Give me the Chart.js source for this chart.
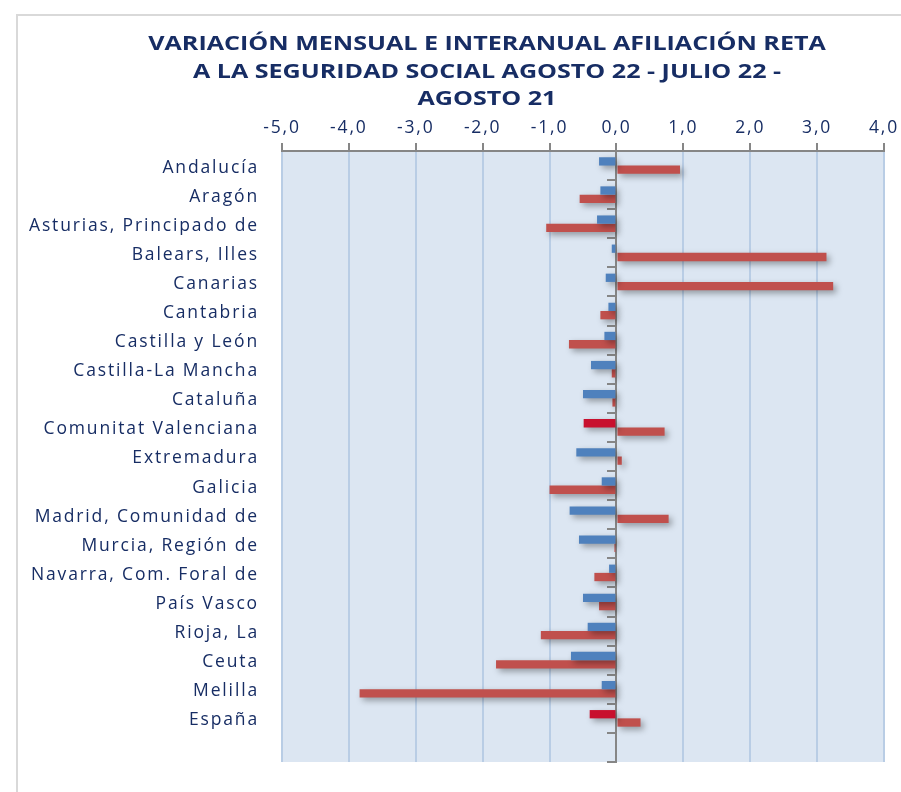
<!DOCTYPE html>
<html>
<head>
<meta charset="utf-8">
<script src="https://cdn.jsdelivr.net/npm/chart.js@4.4.1/dist/chart.umd.min.js"></script>
<style>
    html, body { margin: 0; padding: 0; background: #ffffff; overflow: hidden; }
    .frame { position: absolute; left: 16px; top: 14px; width: 1000px; height: 1000px; border: 2px solid #D9D9D9; }
    #chart { position: absolute; left: 0; top: 0; }
</style>
</head>
<body>
<div class="frame"></div>
<canvas id="chart" width="901" height="792"></canvas>
<script>
// Data
const categories = ['Andalucía', 'Aragón', 'Asturias, Principado de', 'Balears, Illes', 'Canarias', 'Cantabria',
    'Castilla y León', 'Castilla-La Mancha', 'Cataluña', 'Comunitat Valenciana', 'Extremadura', 'Galicia',
    'Madrid, Comunidad de', 'Murcia, Región de', 'Navarra, Com. Foral de', 'País Vasco', 'Rioja, La',
    'Ceuta', 'Melilla', 'España', ''];
const mensual = [-0.26, -0.24, -0.29, -0.07, -0.16, -0.12, -0.18, -0.38, -0.50, -0.49, -0.60, -0.22,
    -0.70, -0.56, -0.11, -0.50, -0.43, -0.68, -0.22, -0.40, null];
const interanual = [0.95, -0.55, -1.05, 3.14, 3.24, -0.24, -0.71, -0.07, -0.06, 0.72, 0.08, -1.00,
    0.78, -0.03, -0.33, -0.26, -1.13, -1.80, -3.84, 0.36, null];
const xTickLabels = ['-5,0', '-4,0', '-3,0', '-2,0', '-1,0', '0,0', '1,0', '2,0', '3,0', '4,0'];
const titleLines = ['VARIACIÓN MENSUAL E INTERANUAL AFILIACIÓN RETA',
    'A LA SEGURIDAD SOCIAL AGOSTO 22 - JULIO 22 -',
    'AGOSTO 21'];
const highlighted = ['Comunitat Valenciana', 'España'];

const NAVY = '#172D64';
const GREY = '#868686';
const FONT = 'Open Sans';

// mensual bars for Valenciana and España are drawn in crimson
const mensualColors = categories.map(c => highlighted.includes(c) ? '#C8102E' : '#4F81BD');

// plot background + title (the original is stretched sideways, so the text is too)
const backdrop = {
    id: 'backdrop',
    beforeDraw(chart) {
        const { ctx, chartArea: a } = chart;
        ctx.save();
        ctx.fillStyle = '#DCE6F2';
        ctx.fillRect(a.left, a.top, a.right - a.left, a.bottom - a.top);
        ctx.fillStyle = NAVY;
        ctx.font = 'bold 19px "' + FONT + '"';
        ctx.textAlign = 'center';
        ctx.textBaseline = 'middle';
        titleLines.forEach((line, i) => {
            ctx.save();
            ctx.translate(487, 45 + i * 27.5);
            ctx.scale(1.32, 1);
            ctx.fillText(line, 0, 0);
            ctx.restore();
        });
        ctx.restore();
        // wider spacing for the axis labels
        ctx.letterSpacing = '1.85px';
    }
};

// soft drop shadow under the bars
const barShadow = {
    id: 'barShadow',
    beforeDatasetsDraw(chart) {
        const ctx = chart.ctx;
        ctx.save();
        ctx.shadowColor = 'rgba(0, 0, 0, 0.35)';
        ctx.shadowBlur = 6;
        ctx.shadowOffsetX = 3;
        ctx.shadowOffsetY = 3;
    },
    afterDatasetsDraw(chart) {
        chart.ctx.restore();
    }
};

new Chart(document.getElementById('chart'), {
    type: 'bar',
    data: {
        labels: categories,
        datasets: [{
            label: 'Mensual',
            data: mensual,
            backgroundColor: mensualColors
        }, {
            label: 'Interanual',
            data: interanual,
            backgroundColor: '#C0504D'
        }]
    },
    options: {
        indexAxis: 'y',
        responsive: false,
        animation: false,
        layout: { padding: { top: 109, left: 0, right: 17, bottom: 30 } },
        datasets: { bar: { categoryPercentage: 0.57, barPercentage: 1.0 } },
        plugins: {
            legend: { display: false },
            tooltip: { enabled: false }
        },
        scales: {
            x: {
                position: 'top',
                min: -5,
                max: 4,
                ticks: {
                    stepSize: 1,
                    color: NAVY,
                    font: { family: FONT, size: 17.5 },
                    padding: 4,
                    callback: (v, i) => xTickLabels[i]
                },
                grid: {
                    color: '#B9CDE5',
                    lineWidth: 2,
                    tickColor: GREY,
                    tickLength: 8
                },
                border: { color: GREY, width: 2 },
                afterFit(scale) { scale.height = 42; }
            },
            y: {
                position: 'left',
                ticks: {
                    color: NAVY,
                    font: { family: FONT, size: 17.5 },
                    padding: 15,
                    labelOffset: 2
                },
                grid: { display: false },
                border: { display: false },
                afterFit(scale) { scale.width = 282; }
            },
            y2: {
                type: 'category',
                position: { x: 0 },
                ticks: { display: false },
                grid: {
                    offset: true,
                    drawOnChartArea: false,
                    color: GREY,
                    lineWidth: 2,
                    tickLength: 8
                },
                border: { color: GREY, width: 2 }
            }
        }
    },
    plugins: [backdrop, barShadow]
});
</script>
</body>
</html>
